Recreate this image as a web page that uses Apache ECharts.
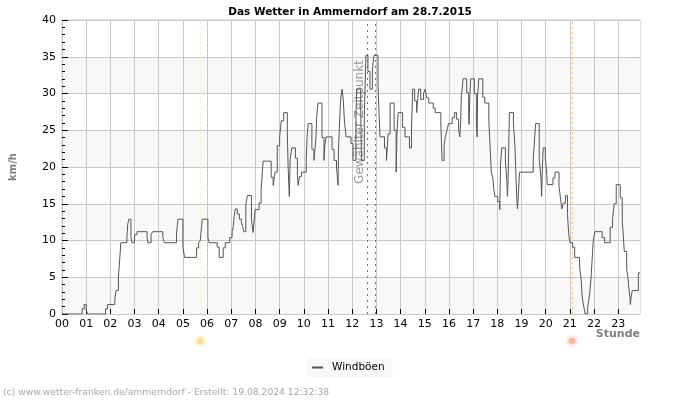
<!DOCTYPE html>
<html><head><meta charset="utf-8">
<style>html,body{margin:0;padding:0;background:#fff}#c{width:700px;height:400px}</style>
<script src="https://cdn.jsdelivr.net/npm/echarts@6/dist/echarts.min.js"></script>
</head><body><div id="c"></div>
<script>
var chartTitle = 'Das Wetter in Ammerndorf am 28.7.2015';
var seriesName = 'Windböen';
var yAxisName = 'km/h';
var xAxisName = 'Stunde';
var footerText = '(c) www.wetter-franken.de/ammerndorf - Erstellt: 19.08.2024 12:32:38';
var selectedLabel = 'Gewählter Zeitpunkt';
var hourLabels = ['00','01','02','03','04','05','06','07','08','09','10','11','12','13','14','15','16','17','18','19','20','21','22','23'];
var sunriseMin = 343, sunsetMin = 1265;
var selectedMins = [758, 776];
var lastMinute = 1434;
// minute of day at which each gust level starts
var gustMinutes = [0,50,55,60,63,108,113,131,134,140,144,146,161,163,166,171,174,180,186,211,213,221,225,250,254,
284,286,288,300,304,334,339,343,346,348,362,365,385,390,400,405,416,422,425,427,430,435,440,445,448,451,456,460,470,474,477,479,
489,494,496,499,519,524,527,529,534,540,544,550,559,561,564,566,570,579,584,586,589,594,606,608,611,620,625,627,630,632,635,645,650,652,655,670,675,681,685,686,690,692,695,698,701,705,717,722,
729,731,741,743,750,754,759,764,770,774,784,786,789,800,805,809,814,824,829,831,834,845,851,862,867,869,870,875,880,882,885,890,897,901,905,910,921,926,940,943,948,951,955,959,
968,974,979,984,987,989,991,993,995,1004,1009,1010,1012,1014,1023,1028,1030,1031,1034,1044,1049,1059,1063,1065,1069,1071,1074,1081,1086,1088,1091,1100,1104,1105,1107,1109,1110,1120,1124,1126,1128,1130,1132,1135,1169,1173,1175,1184,1188,1190,1192,1194,1199,
1203,1204,1218,1223,1233,1237,1240,1244,1249,1254,1257,1260,1267,1272,1284,1288,1290,1292,1295,1298,1304,1306,1309,1312,1315,1318,1322,1340,1346,1360,1366,1370,1375,1385,1390,1392,1395,1401,1404,1406,1409,1410,1413,1415,1430,1434];
var gustValues = [0,0.7,1.3,0.6,0,0.7,1.3,2,3.2,5,8.1,9.7,10.4,12.2,12.9,10.4,9.7,10.8,11.2,10.4,9.7,10.8,11.2,10.4,9.7,
10.8,12,12.9,9.1,7.7,9,9.7,10,11.7,12.9,10.4,9.7,9.1,7.7,9,9.7,10.4,11.2,11.9,13.3,14.3,13.6,12.9,12.5,11.9,11.2,14.9,16.1,12.9,11.1,12.9,14.2,
15.1,16.9,18.5,20.8,18.6,17.5,18.8,19.3,22.9,24.1,26.3,27.4,24.7,20,16,21,22.6,21.2,18.8,17.5,18.7,19.3,21,24,25.9,22.4,20.9,22,24.1,26.9,28.7,24,20.9,22.9,24.1,22.4,20.9,20,17.5,22.4,27.9,29.5,30.6,29,26,24.1,23.2,20.9,
26,30.6,28,20.9,27,35.2,33,30.6,33.2,35.2,31.4,28,24.1,22.6,20.9,24.5,28.7,25,19.3,24.5,27.4,25.4,24.1,22.6,25,28.7,30.6,29,27.4,29,30.6,29.2,30,30.6,29.4,28.7,28,27.4,25.6,20.9,22.9,24.1,25,25.9,
26.7,27.4,26.5,25,24.1,26,30,30.6,32,30.1,27,25.8,30,32,30,26,24.1,29.6,32,29.5,28.7,26.2,21.7,19.3,18.5,17.1,16,15.3,14.2,20.3,22.6,21,17.8,16,18.7,24.7,27.4,25.9,22.6,19.3,16,14.3,16,19.3,21,24.2,25.9,21,18.7,16,20.4,22.6,21.3,
18.8,17.6,18.5,19.3,17.4,15.6,14.3,15.1,16.1,13.7,11,9.7,9.1,7.7,6.5,4.7,2.7,1.8,0.9,0,0.9,1.5,2.7,4.5,7.2,10,11.2,10.4,9.7,11.8,12.9,15,17.6,15.8,12.6,11.2,8.5,6,5,3.7,2.3,1.3,2.7,3.2,5.6,5.6];

var gustData = gustMinutes.map(function(m,i){return [m,gustValues[i]];});
var hourTicks = hourLabels.map(function(l,i){return i*60;});

function sunRender(params, api){
  var p = api.coord([api.value(0),0]);
  var cx = p[0], cy = p[1]+27;
  var evening = api.value(1)===1;
  var kids = [];
  for (var i=0;i<12;i++){
    var a = i*Math.PI/6;
    kids.push({type:'line',shape:{x1:cx+Math.cos(a)*3,y1:cy+Math.sin(a)*3,x2:cx+Math.cos(a)*6,y2:cy+Math.sin(a)*6},
      style:{stroke:evening?'#ffc9b8':'#fbe7a8',lineWidth:1,fill:null}});
  }
  kids.push({type:'circle',shape:{cx:cx,cy:cy,r:3.2},style:{fill:evening?'#ffb29c':'#fde08c'}});
  return {type:'group',children:kids};
}

var chart = echarts.init(document.getElementById('c'),null,{renderer:'canvas',devicePixelRatio:1});
var FF = '"DejaVu Sans"';
chart.setOption({
  animation:false,
  backgroundColor:'#fff',
  textStyle:{fontFamily:FF},
  title:{text:chartTitle,left:'center',top:2,textStyle:{fontFamily:FF,fontSize:10.5,fontWeight:'bold',color:'#000'}},
  legend:{data:[{name:seriesName,icon:'rect'}],left:307,top:358,itemWidth:11,itemHeight:2,itemGap:8,
    backgroundColor:'#f8f8f8',padding:[4,8,4,5],textStyle:{fontFamily:FF,fontSize:10.5,color:'#000',padding:[0,0,0,4]},selectedMode:false},
  grid:{left:60,top:20,right:60,bottom:86,show:true,borderColor:'#c8c8c8',borderWidth:1,backgroundColor:'transparent'},
  xAxis:{type:'value',min:0,max:lastMinute,interval:60,
    axisLine:{show:true,onZero:false,lineStyle:{color:'#c8c8c8'}},
    axisTick:{show:true,inside:true,length:5,lineStyle:{color:'#000'},customValues:hourTicks.slice(1)},
    axisLabel:{customValues:hourTicks,margin:5,fontSize:11,color:'#000',fontFamily:FF,formatter:function(v){return hourLabels[v/60];},hideOverlap:false},
    splitLine:{show:true,lineStyle:{color:'#c8c8c8'}}},
  yAxis:{type:'value',min:0,max:40,interval:5,
    name:yAxisName,nameLocation:'middle',nameRotate:90,nameGap:44,
    nameTextStyle:{fontFamily:FF,fontSize:10,fontWeight:'bold',color:'#808080'},
    axisLine:{show:true,lineStyle:{color:'#c8c8c8'}},
    axisTick:{show:true,inside:true,length:6,lineStyle:{color:'#000'}},
    minorTick:{show:true,splitNumber:5,length:3,lineStyle:{color:'#000'}},
    axisLabel:{margin:6,fontSize:11,color:'#000',fontFamily:FF},
    splitLine:{show:true,lineStyle:{color:'#c8c8c8'}},
    splitArea:{show:true,areaStyle:{color:['#f8f8f8','#ffffff']}}},
  graphic:[
    {type:'text',x:360,y:122,rotation:Math.PI/2,z:2,style:{text:selectedLabel,fontFamily:FF,fontSize:12,fill:'#9a9a9a',textAlign:'center',textVerticalAlign:'middle'}},
    {type:'text',x:640,y:329,style:{text:xAxisName,fontFamily:FF,fontSize:11,fontWeight:'bold',fill:'#808080',textAlign:'right'}},
    {type:'text',x:3,y:388,style:{text:footerText,fontFamily:FF,fontSize:9.2,fill:'#a8a8a8'}}
  ],
  series:[
    {type:'line',name:seriesName,data:gustData,step:'end',showSymbol:false,symbol:'none',
      lineStyle:{color:'#555555',width:1},itemStyle:{color:'#555555'},z:5,
      markLine:{silent:true,symbol:'none',label:{show:false},animation:false,data:[
        {xAxis:sunriseMin,lineStyle:{color:'#f3eeb0',type:[2,3],width:1}},
        {xAxis:sunsetMin,lineStyle:{color:'#f7bd70',type:[2,3],width:1}},
        {xAxis:selectedMins[0],lineStyle:{color:'#777',type:[2,4],width:1}},
        {xAxis:selectedMins[1],lineStyle:{color:'#777',type:[2,4],width:1}}
      ]}},
    {type:'custom',name:'sun',data:[[sunriseMin,0],[sunsetMin,1]],renderItem:sunRender,clip:false,silent:true,z:6}
  ]
});
</script></body></html>
